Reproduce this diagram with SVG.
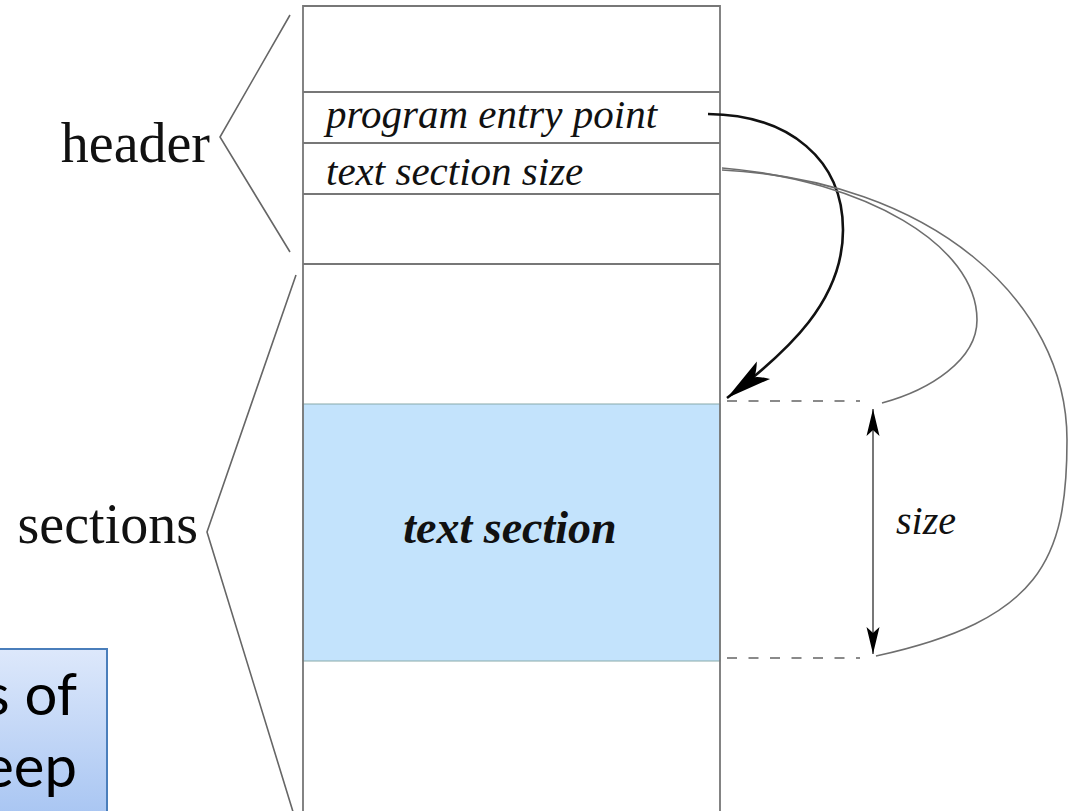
<svg xmlns="http://www.w3.org/2000/svg" width="1072" height="811" viewBox="0 0 1072 811">
  <style>
    .frame { fill: none; stroke: #777; stroke-width: 1.8; }
    .brace { fill: none; stroke: #666; stroke-width: 1.6; }
    .lbl { font-family: "Liberation Serif", "Times New Roman", serif; fill: #111; }
    .it { font-style: italic; }
    .thin { fill: none; stroke: #6e6e6e; stroke-width: 1.6; }
    .dash { fill: none; stroke: #8a8a8a; stroke-width: 2; stroke-dasharray: 10 11.5; }
    .note { font-family: Lato, "Open Sans", sans-serif; font-size: 58px; fill: #000; }
  </style>
  <defs>
    <marker id="bigArrow" markerUnits="userSpaceOnUse" markerWidth="50" markerHeight="30" viewBox="-46 -12 48 24" refX="0" refY="0" orient="auto">
      <path d="M0,0 L-44,-10.5 Q-38,-3 -33,0 Q-38,3 -44,10.5 Z" fill="#000"/>
    </marker>
    <marker id="smallArrow" markerUnits="userSpaceOnUse" markerWidth="32" markerHeight="18" viewBox="-30 -8 32 16" refX="0" refY="0" orient="auto-start-reverse">
      <path d="M0,0 L-27,-6.5 Q-23,-2 -21,0 Q-23,2 -27,6.5 Z" fill="#000"/>
    </marker>
    <linearGradient id="noteGrad" x1="0" y1="0" x2="0" y2="1">
      <stop offset="0" stop-color="#dde8fb"/>
      <stop offset="1" stop-color="#a6c4f2"/>
    </linearGradient>
  </defs>

  <g id="memory-column">
    <rect id="text-section-fill" x="303" y="404" width="417" height="257" fill="#c3e3fc" stroke="#8aa" stroke-width="1"/>
    <path class="frame" d="M303,811 V6 H720 V811"/>
    <line class="frame" x1="303" y1="92" x2="720" y2="92"/>
    <line class="frame" x1="303" y1="143" x2="720" y2="143"/>
    <line class="frame" x1="303" y1="194" x2="720" y2="194"/>
    <line class="frame" x1="303" y1="264" x2="720" y2="264"/>
  </g>

  <g id="entry-point-field">
    <text class="lbl it" x="326" y="128" font-size="41">program entry point</text>
  </g>
  <g id="size-field">
    <text class="lbl it" x="326" y="185" font-size="41">text section size</text>
  </g>
  <g id="text-section">
    <text class="lbl it" x="510" y="543" font-size="46" font-weight="bold" text-anchor="middle">text section</text>
  </g>

  <g id="header-label">
    <path class="brace" d="M290,15 L220,137 L290,252"/>
    <text class="lbl" x="210" y="162" font-size="56" text-anchor="end">header</text>
  </g>
  <g id="sections-label">
    <path class="brace" d="M296,275 L207,532 L294,815"/>
    <text class="lbl" x="198" y="543" font-size="56" text-anchor="end">sections</text>
  </g>

  <g id="size-dimension">
    <line class="dash" x1="727" y1="401" x2="860" y2="401"/>
    <line class="dash" x1="727" y1="658" x2="860" y2="658"/>
    <line x1="873" y1="409" x2="873" y2="654" stroke="#555" stroke-width="1.6" marker-start="url(#smallArrow)" marker-end="url(#smallArrow)"/>
    <text class="lbl it" x="896" y="534" font-size="40">size</text>
  </g>

  <g id="connectors">
    <path d="M708,114 C790,115 843,160 843,230 C843,300 790,350 727,398" fill="none" stroke="#111" stroke-width="2.6" marker-end="url(#bigArrow)"/>
    <path class="thin" d="M722,168 C865,180 977,245 977,320 C977,360 930,390 882,403"/>
    <path class="thin" d="M722,170 C930,180 1067,300 1067,440 C1067,560 1040,620 876,656"/>
  </g>

  <g id="note-box">
    <rect x="-6" y="649" width="113" height="175" fill="url(#noteGrad)" stroke="#4a7ebb" stroke-width="2"/>
    <text class="note" x="77" y="715" text-anchor="end">s of</text>
    <text class="note" x="77" y="787" text-anchor="end">eep</text>
  </g>
</svg>
